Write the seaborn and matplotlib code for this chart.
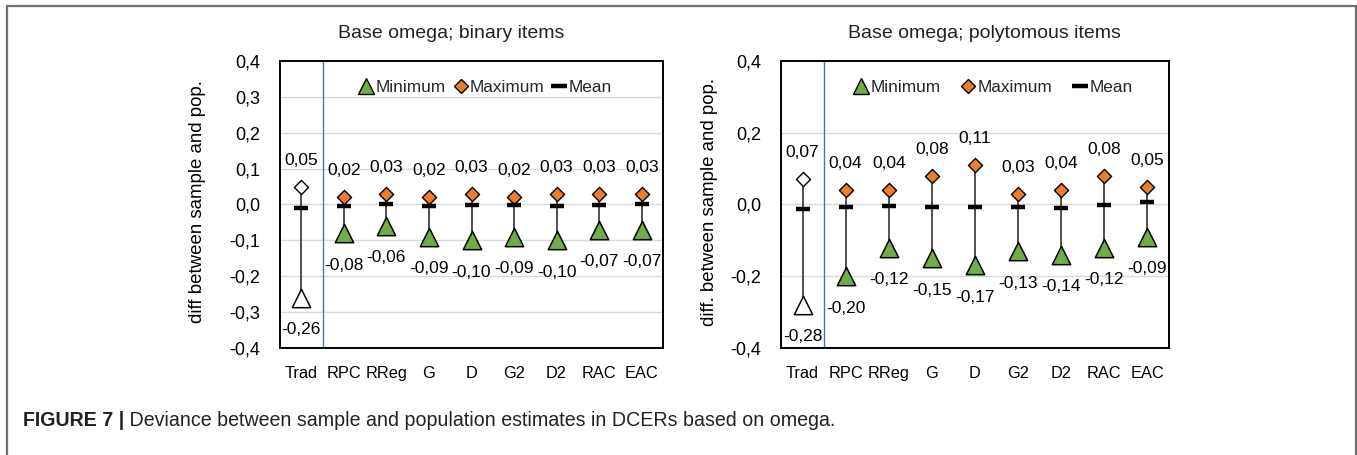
import numpy as np
import pandas as pd
import matplotlib
matplotlib.use("Agg")
import matplotlib.pyplot as plt
from matplotlib.lines import Line2D
import seaborn as sns

categories = ["Trad", "RPC", "RReg", "G", "D", "G2", "D2", "RAC", "EAC"]

bin_min = [-0.26, -0.08, -0.06, -0.09, -0.10, -0.09, -0.10, -0.07, -0.07]
bin_max = [0.05, 0.02, 0.03, 0.02, 0.03, 0.02, 0.03, 0.03, 0.03]
bin_mean = [-0.010, -0.003, 0.001, -0.003, -0.002, -0.002, -0.003, -0.002, 0.000]

pol_min = [-0.28, -0.20, -0.12, -0.15, -0.17, -0.13, -0.14, -0.12, -0.09]
pol_max = [0.07, 0.04, 0.04, 0.08, 0.11, 0.03, 0.04, 0.08, 0.05]
pol_mean = [-0.013, -0.007, -0.004, -0.008, -0.007, -0.007, -0.010, -0.001, 0.006]

titles = ["Base omega; binary items", "Base omega; polytomous items"]
ylabels = ["diff between sample and pop.", "diff. between sample and pop."]
ytick_steps = [0.1, 0.2]
caption_bold = "FIGURE 7 |"
caption_text = " Deviance between sample and population estimates in DCERs based on omega."

GREEN = "#70AD47"
ORANGE = "#ED7D31"
BLUE = "#4472C4"

sns.set_theme(style="white")
plt.rcParams["font.family"] = ["Liberation Sans", "DejaVu Sans"]

fig = plt.figure(figsize=(13.57, 4.55), dpi=100)
axes_rects = [
    [280 / 1357, 1 - 348 / 455, 383 / 1357, 287 / 455],
    [781 / 1357, 1 - 348 / 455, 388 / 1357, 287 / 455],
]
title_x = [451 / 1357, 984 / 1357]
ylabel_x = [198 / 1357, 709 / 1357]
legend_spacing = [0.35, 1.1]
legend_x = [0.535, 0.545]


def fmt(v):
    return f"{v:.2f}".replace(".", ",")


def fmt_tick(v):
    s = f"{v:.1f}".replace(".", ",")
    if s == "-0,0":
        s = "0,0"
    return s


datasets = [(bin_min, bin_max, bin_mean), (pol_min, pol_max, pol_mean)]

for i, (mins, maxs, means) in enumerate(datasets):
    ax = fig.add_axes(axes_rects[i])
    df = pd.DataFrame({
        "cat": categories,
        "pos": np.arange(len(categories)),
        "min": mins,
        "max": maxs,
        "mean": means,
    })
    first = df.iloc[:1]
    rest = df.iloc[1:]

    ax.set_xlim(-0.5, len(categories) - 0.5)
    ax.set_ylim(-0.4, 0.4)
    step = ytick_steps[i]
    yt = np.round(np.arange(-0.4, 0.4 + step / 2, step), 2)
    ax.set_yticks(yt)
    ax.set_yticklabels([fmt_tick(v) for v in yt])
    ax.yaxis.grid(True, color="#D9D9D9", linewidth=1.0)
    ax.xaxis.grid(False)
    ax.set_axisbelow(True)

    # blue separator after Trad
    ax.axvline(0.5, color=BLUE, linewidth=1.0, zorder=1)

    # range lines
    ax.vlines(df["pos"], df["min"], df["max"], color="#333333", linewidth=1.2, zorder=2)

    # min markers
    sns.scatterplot(data=rest, x="pos", y="min", marker="^", s=175, color=GREEN,
                    edgecolor="black", linewidth=1.1, ax=ax, zorder=4, legend=False)
    sns.scatterplot(data=first, x="pos", y="min", marker="^", s=175, color="white",
                    edgecolor="black", linewidth=1.1, ax=ax, zorder=4, legend=False)
    # max markers
    sns.scatterplot(data=rest, x="pos", y="max", marker="D", s=52, color=ORANGE,
                    edgecolor="black", linewidth=1.0, ax=ax, zorder=4, legend=False)
    sns.scatterplot(data=first, x="pos", y="max", marker="D", s=52, color="white",
                    edgecolor="black", linewidth=1.0, ax=ax, zorder=4, legend=False)
    # mean markers
    sns.scatterplot(data=df, x="pos", y="mean", marker="_", s=100, color="black",
                    linewidth=3.2, ax=ax, zorder=5, legend=False)

    for _, r in df.iterrows():
        ax.annotate(fmt(r["max"]), (r["pos"], r["max"]), xytext=(0, 19),
                    textcoords="offset points", ha="center", va="center",
                    fontsize=12.5, color="black")
        ax.annotate(fmt(r["min"]), (r["pos"], r["min"]), xytext=(0, -23),
                    textcoords="offset points", ha="center", va="center",
                    fontsize=12.5, color="black")

    ax.set_xticks(df["pos"])
    ax.set_xticklabels(df["cat"])
    ax.tick_params(axis="both", length=0, colors="black")
    ax.tick_params(axis="x", pad=13, labelsize=11.8)
    ax.tick_params(axis="y", pad=14, labelsize=13)
    ax.set_xlabel("")
    ax.set_ylabel("")
    for sp in ax.spines.values():
        sp.set_visible(True)
        sp.set_color("black")
        sp.set_linewidth(1.4)

    handles = [
        Line2D([], [], marker="^", linestyle="none", markersize=12,
               markerfacecolor=GREEN, markeredgecolor="black", markeredgewidth=1.0),
        Line2D([], [], marker="D", linestyle="none", markersize=7,
               markerfacecolor=ORANGE, markeredgecolor="black", markeredgewidth=1.0),
        Line2D([], [], marker="_", linestyle="none", markersize=12,
               markeredgecolor="black", markeredgewidth=3.2),
    ]
    ax.legend(handles, ["Minimum", "Maximum", "Mean"], loc="upper center",
              bbox_to_anchor=(legend_x[i], 1.0), ncol=3, frameon=False,
              fontsize=12.4, handletextpad=0.05, columnspacing=legend_spacing[i],
              handlelength=1.0, borderpad=0.6)

    fig.text(title_x[i], 1 - 33 / 455, titles[i], ha="center", va="center",
             fontsize=14, color="#222222")
    fig.text(ylabel_x[i], 1 - 202 / 455, ylabels[i], ha="center", va="center",
             rotation=90, fontsize=13.4, color="black")

# figure frame
frame_col = "#707070"
fig.add_artist(Line2D([7 / 1357, 7 / 1357], [0, 1 - 6 / 455], color=frame_col, linewidth=1.6))
fig.add_artist(Line2D([7 / 1357, 1356 / 1357], [1 - 6 / 455, 1 - 6 / 455], color=frame_col, linewidth=1.6))
fig.add_artist(Line2D([1355.5 / 1357, 1355.5 / 1357], [0, 1 - 6 / 455], color=frame_col, linewidth=1.6))

# caption
cap_family = ["Liberation Sans", "DejaVu Sans"]
t1 = fig.text(23 / 1357, 1 - 421 / 455, caption_bold, ha="left", va="center",
              fontsize=14.1, fontweight="bold", color="#222222", family=cap_family)
fig.canvas.draw()
bb = t1.get_window_extent(renderer=fig.canvas.get_renderer())
fig.text(bb.x1 / fig.bbox.width, 1 - 421 / 455, caption_text, ha="left", va="center",
         fontsize=14.1, color="#222222", family=cap_family)

fig.savefig("out.png", dpi=100)
